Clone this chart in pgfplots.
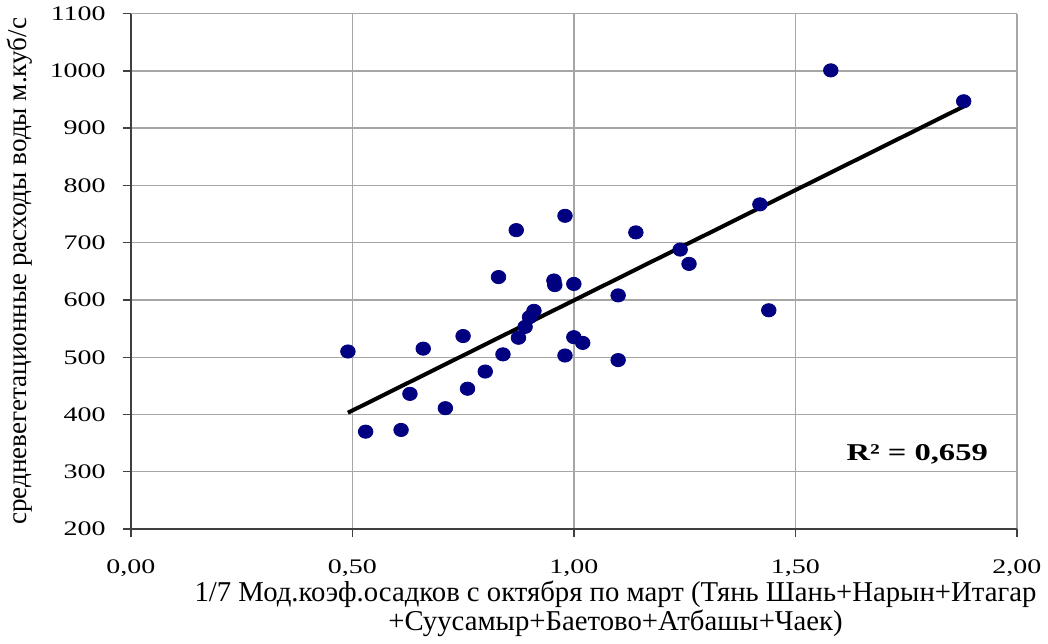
\documentclass[border=0pt]{standalone}
\usepackage{fontspec}
\setmainfont{Liberation Serif}
\newfontfamily\widefont{Liberation Serif}[FakeStretch=1.35]
\usepackage{pgfplots}
\pgfplotsset{compat=1.18}
\definecolor{dotblue}{RGB}{0,0,128}
\begin{document}
\begin{tikzpicture}
\begin{axis}[
  scale only axis,
  width=441pt, height=256.5pt,
  xmin=0, xmax=2, ymin=200, ymax=1100,
  xtick={0,0.5,1,1.5,2},
  ytick={200,300,...,1100},
  grid=major,
  major grid style={gray!70, line width=0.7pt},
  axis line style={black!75, line width=0.8pt},
  axis x line*=bottom, axis y line*=left,
  tick align=outside,
  major tick length=4pt,
  tick style={black!75, line width=0.7pt},
  /pgf/number format/assume math mode=true,
  ticklabel style={font=\widefont\fontsize{10.3}{12}\selectfont},
  xticklabel style={yshift=-8pt, /pgf/number format/.cd, fixed, fixed zerofill, precision=2, use comma, 1000 sep={}},
  yticklabel style={xshift=-5pt, /pgf/number format/.cd, 1000 sep={}},
  xlabel={1/7 Мод.коэф.осадков с октября по март (Тянь Шань+Нарын+Итагар\\+Суусамыр+Баетово+Атбашы+Чаек)},
  xlabel style={align=center, font=\fontsize{14.3}{11.5}\selectfont, at={(ticklabel cs:0.547)}, anchor=north, yshift=5pt},
  ylabel={средневегетационные расходы воды м.куб/с},
  ylabel style={font=\fontsize{13.5}{14}\selectfont, yshift=2pt},
  clip=false,
]
\addplot[only marks, mark=*, mark size=3.3pt, mark options={fill=dotblue, draw=dotblue, xscale=1.1}] coordinates {
(0.49,510) (0.53,370) (0.61,373) (0.63,436) (0.66,515) (0.71,411)
(0.75,537) (0.76,445) (0.80,475) (0.83,640) (0.84,505) (0.87,722)
(0.875,534) (0.89,553) (0.90,570) (0.91,581) (0.955,634) (0.957,626)
(0.98,747) (0.98,503) (1.00,628) (1.00,535) (1.02,525) (1.10,608)
(1.10,495) (1.14,718) (1.24,688) (1.26,663) (1.42,767) (1.44,582)
(1.58,1001) (1.88,947)
};
\addplot[black, line width=2pt] coordinates {(0.49,403) (1.88,938)};
\node[font=\widefont\bfseries\fontsize{12}{14}\selectfont] at (axis cs:1.775,330) {R² = 0,659};
\end{axis}
\end{tikzpicture}
\end{document}
